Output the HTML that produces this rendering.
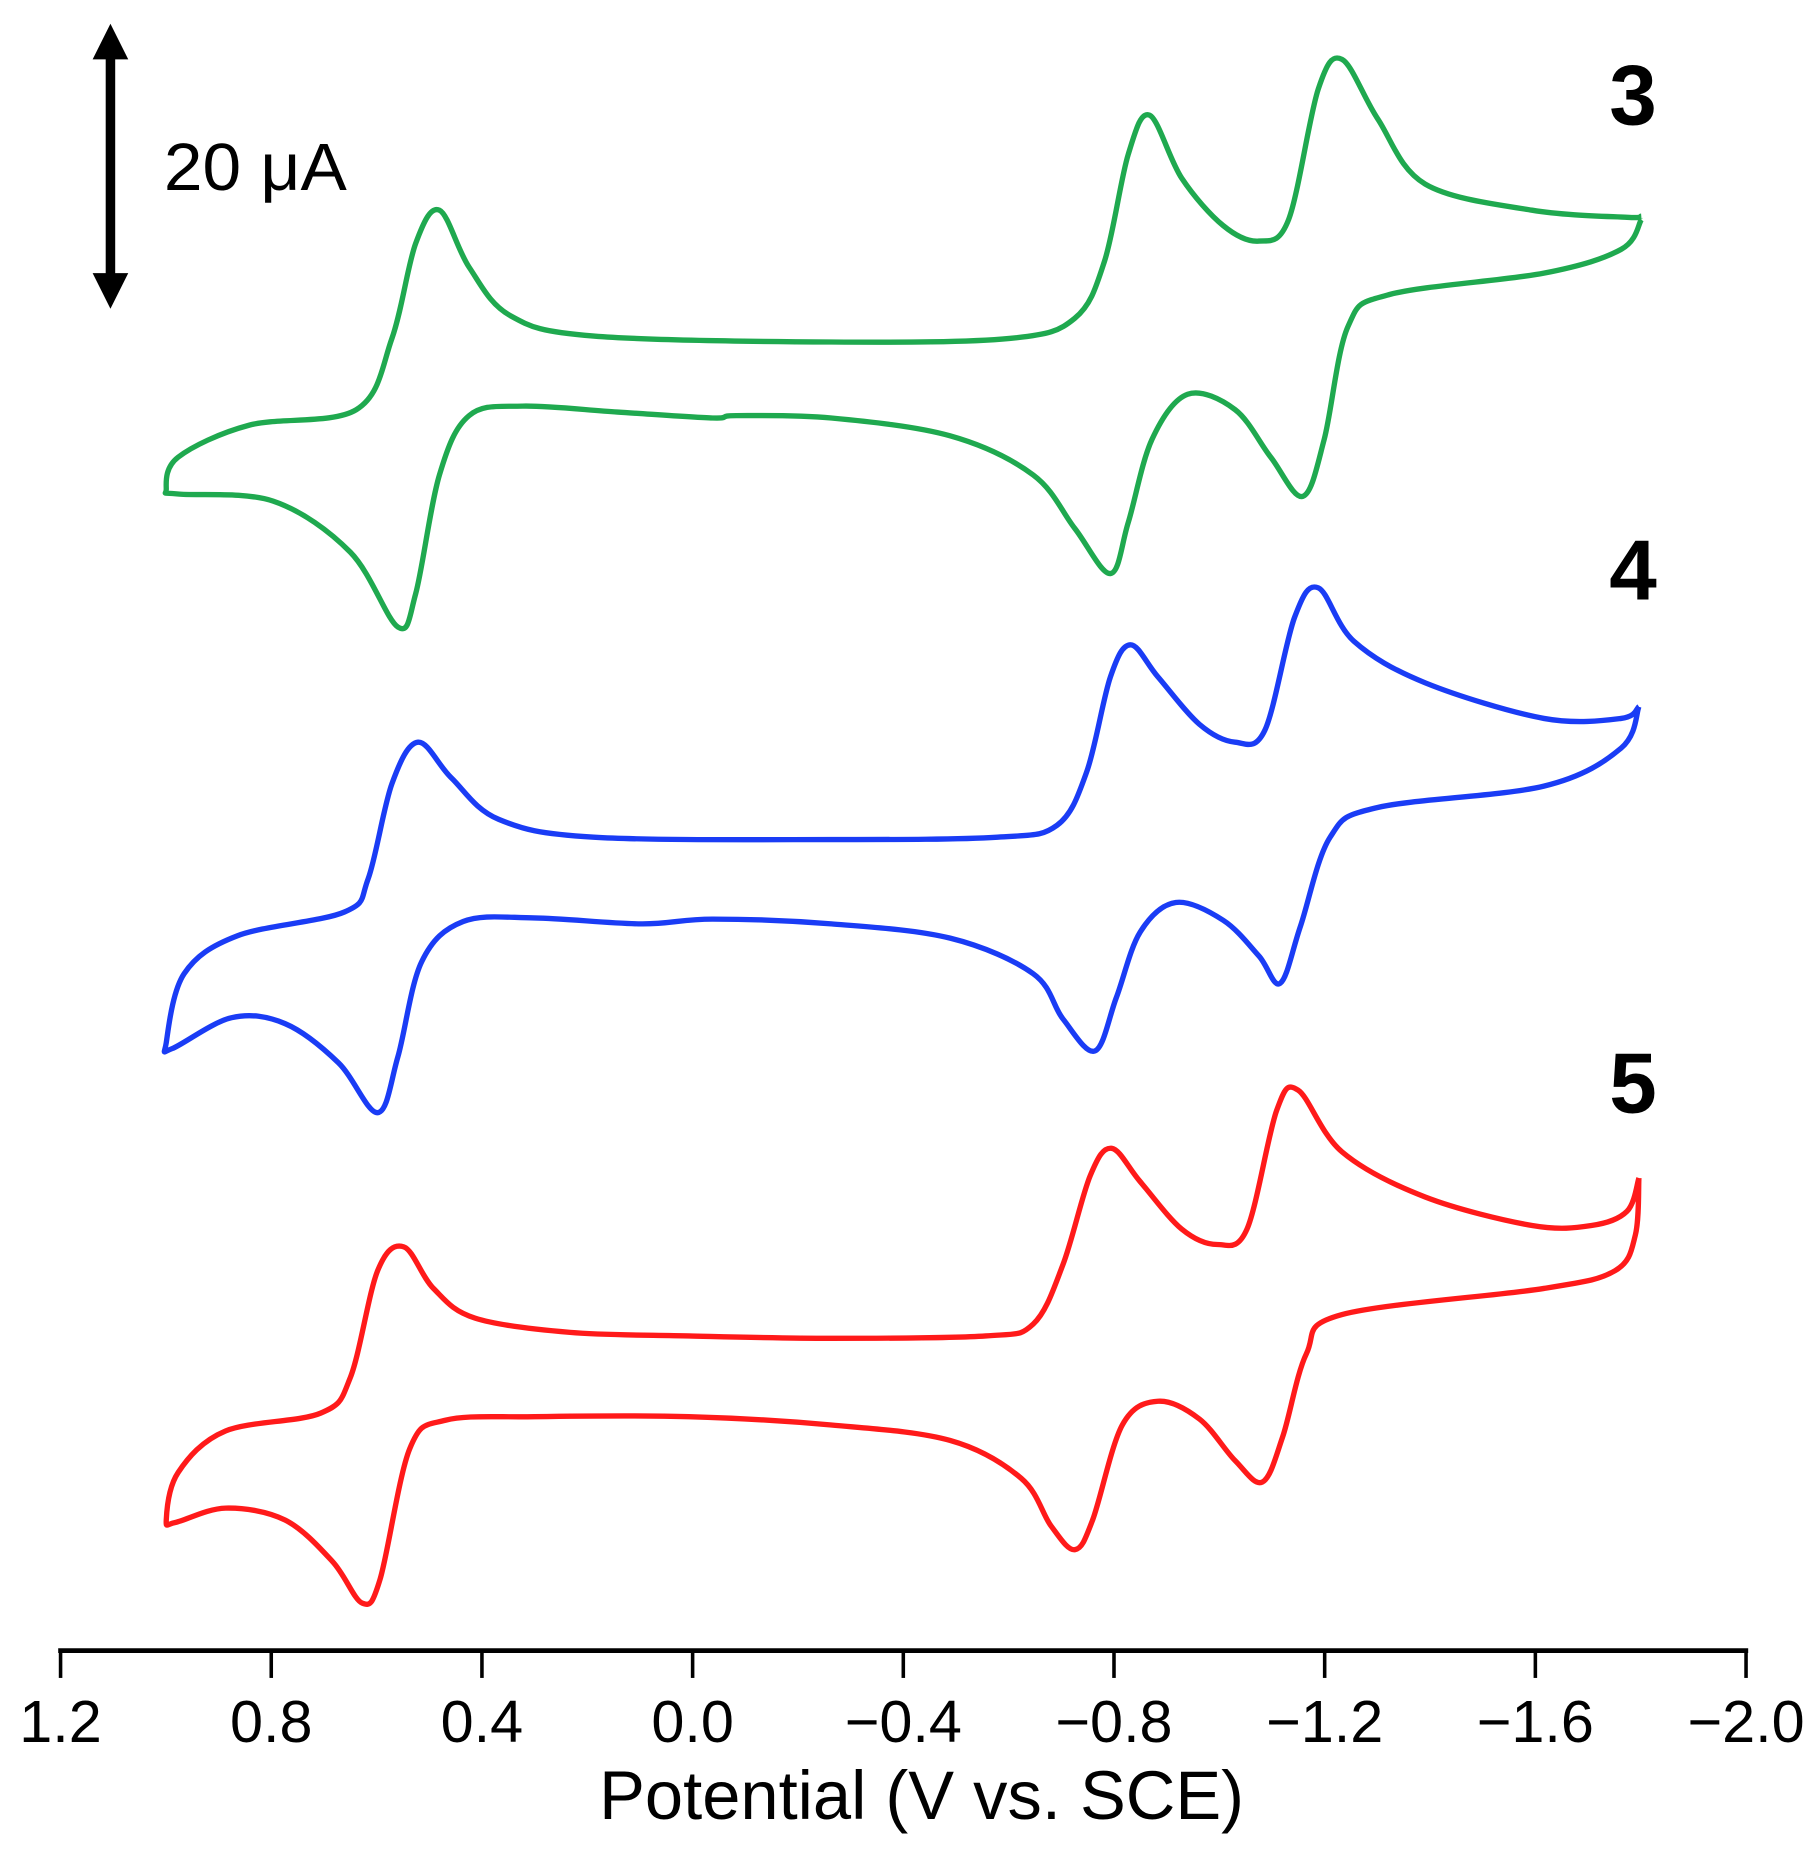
<!DOCTYPE html>
<html><head><style>html,body{margin:0;padding:0;background:#fff}svg{display:block}</style></head>
<body>
<svg id="s" width="1804" height="1862" viewBox="0 0 1519 1568" preserveAspectRatio="none" xmlns="http://www.w3.org/2000/svg" font-family="Liberation Sans, sans-serif">
<line x1="93" y1="40" x2="93" y2="240" stroke="#000" stroke-width="8"/>
<polygon points="93,20 78,50 108,50" fill="#000"/>
<polygon points="93,260 78,230 108,230" fill="#000"/>
<text x="138" y="160" font-size="56" textLength="154" lengthAdjust="spacingAndGlyphs">20 μA</text>
<text x="1375" y="105" font-size="72" font-weight="bold" text-anchor="middle">3</text>
<text x="1375" y="505" font-size="72" font-weight="bold" text-anchor="middle">4</text>
<text x="1375" y="937" font-size="72" font-weight="bold" text-anchor="middle">5</text>
<line x1="49" y1="1390" x2="1472" y2="1390" stroke="#000" stroke-width="4"/>
<g id="ticks" stroke="#000" stroke-width="3"></g>
<g id="labels" font-size="50" text-anchor="middle"></g>
<text x="776" y="1532" font-size="58" text-anchor="middle" textLength="543" lengthAdjust="spacingAndGlyphs">Potential (V vs. SCE)</text>
<g id="curves" fill="none" stroke-width="4.5" stroke-linejoin="round"></g>
</svg>
<script>
var NS="http://www.w3.org/2000/svg";
var labs=["1.2","0.8","0.4","0.0","\u22120.4","\u22120.8","\u22121.2","\u22121.6","\u22122.0"];
for(var i=0;i<9;i++){var x=51+i*177.4;
var l=document.createElementNS(NS,"line");l.setAttribute("x1",x);l.setAttribute("x2",x);l.setAttribute("y1",1390);l.setAttribute("y2",1413);document.getElementById("ticks").appendChild(l);
var t=document.createElementNS(NS,"text");t.setAttribute("x",x);t.setAttribute("y",1467);t.textContent=labs[i];document.getElementById("labels").appendChild(t);}
function path(p){var d="M"+p[0][0]+","+p[0][1];
for(var i=0;i<p.length-1;i++){var p0=p[Math.max(i-1,0)],p1=p[i],p2=p[i+1],p3=p[Math.min(i+2,p.length-1)];
d+=" C"+(p1[0]+(p2[0]-p0[0])/6)+","+(p1[1]+(p2[1]-p0[1])/6)+" "+(p2[0]-(p3[0]-p1[0])/6)+","+(p2[1]-(p3[1]-p1[1])/6)+" "+p2[0]+","+p2[1];}
return d;}
var C={
"#1fa94f":[[1382,182],[1370,183],[1290,177],[1200,155],[1160,100],[1130,50],[1110,75],[1085,185],[1060,203],[1030,190],[995,150],[968,97],[950,130],[930,220],[905,268],[850,285],[700,288],[500,283],[430,266],[395,225],[370,177],[350,205],[330,285],[300,345],[210,358],[150,385],[140,412],[150,416],[230,422],[295,465],[335,528],[350,500],[370,400],[395,350],[440,342],[520,347],[600,352],[620,350],[700,352],[800,367],[870,400],[905,445],[935,483],[950,440],[970,370],[1000,332],[1040,345],[1070,385],[1097,418],[1115,370],[1135,275],[1170,248],[1300,230],[1365,210],[1382,185]],
"#1a3cf5":[[1380,595],[1365,605],[1300,605],[1200,575],[1140,540],[1110,495],[1090,520],[1065,615],[1040,625],[1010,610],[975,570],[952,543],[935,570],[915,650],[890,695],[840,705],[700,707],[500,705],[420,690],[380,655],[352,625],[330,660],[310,740],[290,768],[200,788],[155,820],[140,878],[145,883],[195,857],[240,862],[285,895],[318,937],[335,890],[355,810],[390,776],[450,773],[540,778],[600,774],[700,778],[800,790],[870,820],[895,858],[922,885],[940,840],[960,785],[990,760],[1030,775],[1060,805],[1078,828],[1095,780],[1120,705],[1160,680],[1300,662],[1365,630],[1380,595]],
"#ff1a1a":[[1380,992],[1370,1020],[1340,1032],[1290,1032],[1200,1008],[1130,970],[1093,918],[1075,935],[1050,1035],[1025,1048],[995,1035],[960,995],[936,967],[918,990],[895,1065],[870,1115],[830,1125],[700,1127],[580,1125],[480,1122],[400,1110],[365,1085],[340,1050],[318,1070],[295,1160],[270,1190],[190,1205],[150,1240],[140,1280],[148,1282],[190,1270],[240,1280],[280,1315],[305,1350],[320,1330],[345,1220],[375,1196],[450,1193],[580,1193],[700,1200],[800,1213],[860,1245],[885,1285],[905,1305],[920,1280],[945,1200],[975,1180],[1010,1195],[1040,1230],[1063,1248],[1080,1210],[1100,1140],[1130,1107],[1300,1085],[1360,1070],[1377,1040],[1380,992]]};
for(var c in C){var e=document.createElementNS(NS,"path");e.setAttribute("d",path(C[c]));e.setAttribute("stroke",c);document.getElementById("curves").appendChild(e);}
</script>
</body></html>
